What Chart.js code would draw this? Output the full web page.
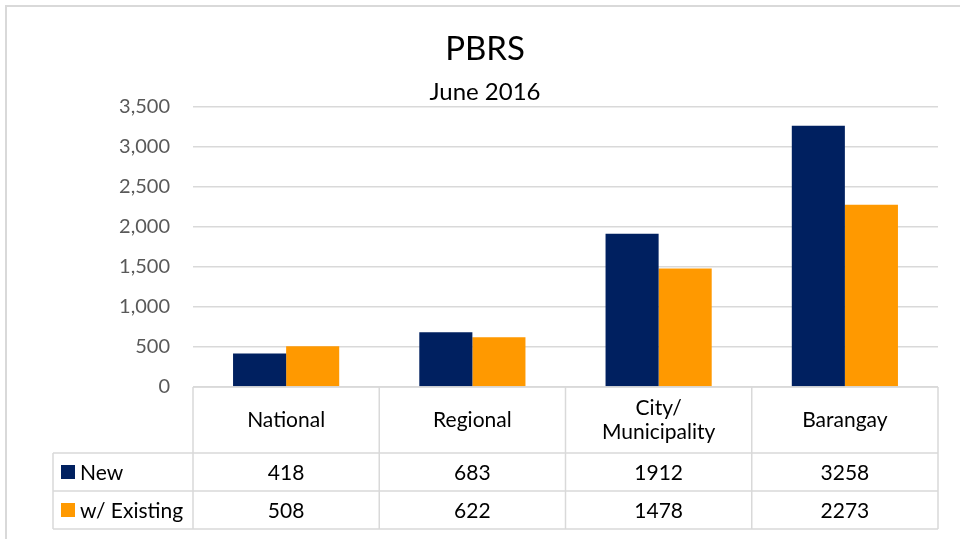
<!DOCTYPE html>
<html>
<head>
<meta charset="utf-8">
<script src="https://cdn.jsdelivr.net/npm/chart.js@4/dist/chart.umd.min.js"></script>
<style>
  html, body { margin: 0; padding: 0; background: #fff; }
  #wrap { width: 960px; height: 539px; }
</style>
</head>
<body>
<div id="wrap"><canvas id="chart" width="960" height="539"></canvas></div>
<script>
const categories = ["National", "Regional", "City/\nMunicipality", "Barangay"];
const newValues = [418, 683, 1912, 3258];
const existingValues = [508, 622, 1478, 2273];
const seriesNames = ["New", "w/ Existing"];
const seriesColors = ["#002060", "#FF9900"];

const FONT = "Lato, 'Open Sans', sans-serif";
const GRID = "#d9d9d9";

// frame around the whole chart plus the Excel-style data table under the plot
const tablePlugin = {
  id: "dataTable",
  beforeDraw(chart) {
    const ctx = chart.ctx;
    ctx.save();
    ctx.strokeStyle = GRID;
    ctx.lineWidth = 2;
    ctx.strokeRect(6, 6, 970, 550);
    ctx.restore();
  },
  afterDraw(chart) {
    const ctx = chart.ctx;
    const x = chart.scales.x;
    const area = chart.chartArea;
    const top = area.bottom;
    const headerH = 66, rowH = 38;
    const legendLeft = 53;
    const step = (area.right - area.left) / categories.length;
    const rows = [newValues, existingValues];

    ctx.save();
    ctx.strokeStyle = GRID;
    ctx.lineWidth = 1.5;
    ctx.beginPath();
    // horizontal lines
    ctx.moveTo(area.left, top); ctx.lineTo(area.right, top);
    for (let r = 0; r <= rows.length; r++) {
      const y = top + headerH + r * rowH;
      ctx.moveTo(legendLeft, y); ctx.lineTo(area.right, y);
    }
    // vertical lines
    const bottom = top + headerH + rows.length * rowH;
    ctx.moveTo(legendLeft, top + headerH); ctx.lineTo(legendLeft, bottom);
    for (let i = 0; i <= categories.length; i++) {
      const vx = area.left + i * step;
      ctx.moveTo(vx, top); ctx.lineTo(vx, bottom);
    }
    ctx.stroke();

    ctx.fillStyle = "#000";
    ctx.font = "21px " + FONT;
    ctx.textAlign = "center";
    ctx.textBaseline = "middle";
    categories.forEach((c, i) => {
      const cx = x.getPixelForValue(i);
      const lines = c.split("\n");
      const lh = 24;
      lines.forEach((ln, k) => {
        ctx.fillText(ln, cx, top + headerH / 2 + (k - (lines.length - 1) / 2) * lh);
      });
      rows.forEach((vals, r) => {
        ctx.fillText(String(vals[i]), cx, top + headerH + r * rowH + rowH / 2 + 1);
      });
    });

    ctx.textAlign = "left";
    rows.forEach((vals, r) => {
      const cy = top + headerH + r * rowH + rowH / 2;
      ctx.fillStyle = seriesColors[r];
      ctx.fillRect(61, cy - 7, 14, 14);
      ctx.fillStyle = "#000";
      ctx.fillText(seriesNames[r], 80, cy + 1);
    });
    ctx.restore();
  }
};

new Chart(document.getElementById("chart"), {
  type: "bar",
  data: {
    labels: categories,
    datasets: [
      { label: seriesNames[0], data: newValues, backgroundColor: seriesColors[0] },
      { label: seriesNames[1], data: existingValues, backgroundColor: seriesColors[1] }
    ]
  },
  options: {
    responsive: false,
    animation: false,
    layout: { padding: { left: 32, right: 22, top: 0, bottom: 152 } },
    datasets: { bar: { categoryPercentage: 0.57, barPercentage: 1.0 } },
    plugins: {
      legend: { display: false },
      tooltip: { enabled: false },
      title: {
        display: true,
        text: "PBRS",
        color: "#000",
        font: { family: FONT, size: 33, weight: "normal" },
        padding: { top: 30, bottom: 8 }
      },
      subtitle: {
        display: true,
        text: "June 2016",
        color: "#000",
        font: { family: FONT, size: 24, weight: "normal" },
        padding: { top: 0, bottom: 0 }
      }
    },
    scales: {
      x: { display: false },
      y: {
        min: 0,
        max: 3500,
        afterFit(scale) { scale.width = 161; },
        border: { display: false },
        grid: { color: GRID, lineWidth: 1.5, drawTicks: false },
        ticks: {
          stepSize: 500,
          padding: 23,
          color: "#595959",
          font: { family: FONT, size: 20 },
          callback: (v) => v.toLocaleString("en-US")
        }
      }
    }
  },
  plugins: [tablePlugin]
});
</script>
</body>
</html>
